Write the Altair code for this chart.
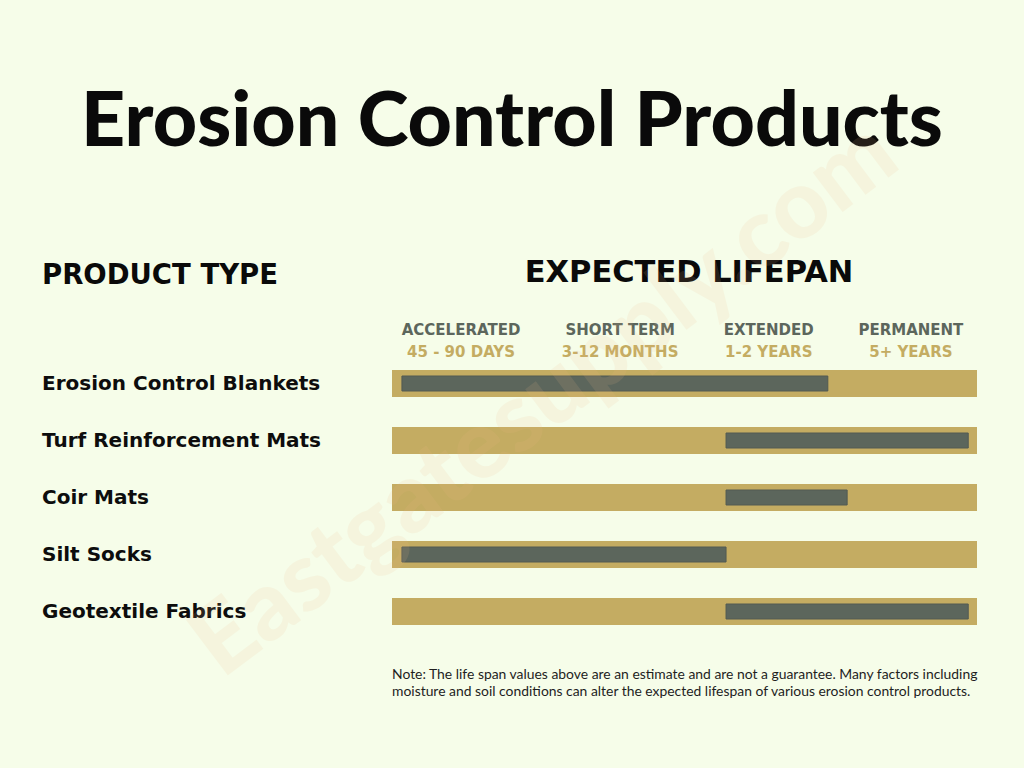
import altair as alt
import pandas as pd

# ---- data ----
products = ["Erosion Control Blankets", "Turf Reinforcement Mats", "Coir Mats",
            "Silt Socks", "Geotextile Fabrics"]
# lifespan bar extents on a 0-100 scale (0 = start of ACCELERATED, 100 = end of PERMANENT)
life_start = [1.7, 57.1, 57.1, 1.7, 57.1]
life_end = [74.5, 98.5, 77.8, 57.1, 98.5]
scale_min = [0, 0, 0, 0, 0]
scale_max = [100, 100, 100, 100, 100]

categories = ["ACCELERATED", "SHORT TERM", "EXTENDED", "PERMANENT"]
durations = ["45 - 90 DAYS", "3-12 MONTHS", "1-2 YEARS", "5+ YEARS"]
category_pos = [11.8, 39.0, 64.4, 88.7]

title_text = "Erosion Control Products"
left_header = "PRODUCT TYPE"
right_header = "EXPECTED LIFEPAN"
note_lines = [
    "Note: The life span values above are an estimate and are not a guarantee. Many factors including",
    "moisture and soil conditions can alter the expected lifespan of various erosion control products.",
]
watermark = "Eastgatesupply.com"

BG = "#f6fde9"
GOLD = "#c4ac62"
DARK = "#5c665c"
FONT = "Lato"
WIDE = "DejaVu Sans"

bars = pd.DataFrame({"product": products, "start": life_start, "end": life_end,
                     "smin": scale_min, "smax": scale_max})
cats = pd.DataFrame({"cat": categories, "dur": durations, "pos": category_pos})

xs = alt.Scale(domain=[0, 100], nice=False, zero=False)
ys = alt.Scale(domain=products, paddingInner=0, paddingOuter=0)

base = alt.Chart(bars)

gold = base.mark_bar(size=27, color=GOLD, cornerRadius=0).encode(
    y=alt.Y("product:N", scale=ys, axis=None, sort=products),
    x=alt.X("smin:Q", scale=xs, axis=None),
    x2="smax:Q",
)
dark = base.mark_bar(size=15, color=DARK, stroke="#525a52", strokeWidth=1,
                     cornerRadius=0).encode(
    y=alt.Y("product:N", scale=ys, axis=None, sort=products),
    x=alt.X("start:Q", scale=xs, axis=None),
    x2="end:Q",
)
row_labels = base.mark_text(align="left", baseline="middle", font=WIDE, fontSize=20,
                            fontWeight="bold", color="#0d0d0d").encode(
    y=alt.Y("product:N", scale=ys, axis=None, sort=products),
    x=alt.value(-350),
    text="product:N",
)

cat_text = alt.Chart(cats).mark_text(align="center", baseline="middle", font=WIDE,
                                     fontSize=15, fontWeight="bold", color=DARK).encode(
    x=alt.X("pos:Q", scale=xs, axis=None),
    y=alt.value(-25),
    text="cat:N",
)
dur_text = alt.Chart(cats).mark_text(align="center", baseline="middle", font=WIDE,
                                     fontSize=15, fontWeight="bold", color=GOLD).encode(
    x=alt.X("pos:Q", scale=xs, axis=None),
    y=alt.value(-3),
    text="dur:N",
)

def label(text, x, y, size, align="left", weight="bold", color="#0a0a0a", angle=None,
          opacity=1.0, font=FONT):
    kw = dict(align=align, baseline="middle", font=font, fontSize=size,
              fontWeight=weight, color=color, opacity=opacity)
    if angle is not None:
        kw["angle"] = angle
    return alt.Chart(pd.DataFrame({"t": [text]})).mark_text(**kw).encode(
        x=alt.value(x), y=alt.value(y), text="t:N")

title = label(title_text, 120, -232, 77, align="center", weight=900)
lh = label(left_header, -350, -79, 27.5, font=WIDE)
rh = label(right_header, 297, -82, 30.5, align="center", font=WIDE)

note1 = label(note_lines[0], 0, 320, 13.9, weight="normal", color="#1e1e1e")
note2 = label(note_lines[1], 0, 337, 13.9, weight="normal", color="#1e1e1e")

wm = label(watermark, 153, 45, 96, align="center", weight=900, color="#f0b989",
           angle=323, opacity=0.12)

chart = alt.layer(gold, dark, row_labels, cat_text, dur_text, title, lh, rh,
                  note1, note2, wm).properties(
    width=585, height=285,
    padding={"left": 392, "right": 47, "top": 355, "bottom": 128},
    autosize=alt.AutoSizeParams(type="none"),
    background=BG,
).configure_view(stroke=None)

chart.save("out.html", embed_options={"renderer": "svg", "actions": False})
